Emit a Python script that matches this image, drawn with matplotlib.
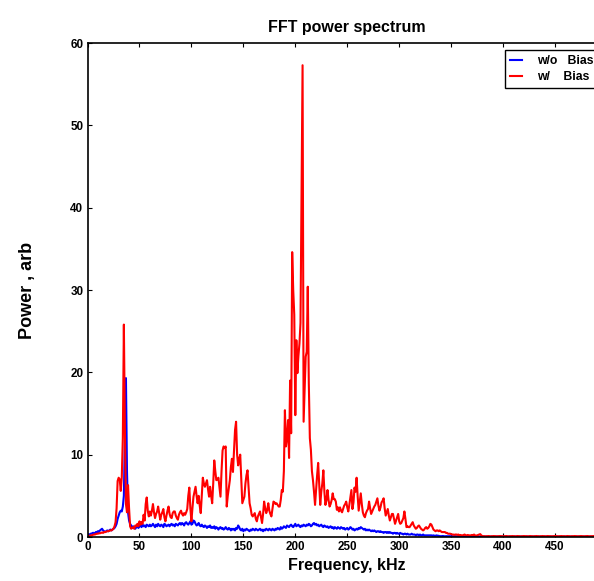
import numpy as np
import matplotlib
matplotlib.use("Agg")
import matplotlib.pyplot as plt

plt.rcParams['font.family'] = ['Liberation Sans', 'DejaVu Sans']
plt.rcParams['font.weight'] = 'bold'

# frequency grid, 1 kHz steps (0 .. 499 kHz)
freq = np.arange(0, 500, 1.0)

# power without bias (blue)
power_no_bias = [
    0.2, 0.3, 0.3, 0.4, 0.4, 0.5, 0.5, 0.4, 0.6, 0.6,
    0.7, 0.6, 0.8, 0.9, 1.0, 0.8, 0.7, 0.6, 0.7, 0.8,
    0.7, 0.8, 0.9, 0.8, 0.9, 1.0, 1.1, 1.3, 1.6, 2.2,
    2.6, 3.0, 3.2, 3.1, 3.7, 5.0, 12.0, 19.3, 8.0, 3.0,
    2.0, 1.6, 1.4, 1.1, 1.3, 1.2, 1.0, 1.2, 1.3, 1.1,
    1.3, 1.4, 1.2, 1.5, 1.3, 1.4, 1.2, 1.5, 1.4, 1.3,
    1.5, 1.3, 1.4, 1.6, 1.4, 1.2, 1.5, 1.3, 1.6, 1.4,
    1.3, 1.5, 1.4, 1.2, 1.6, 1.5, 1.3, 1.4, 1.5, 1.3,
    1.5, 1.6, 1.4, 1.5, 1.3, 1.6, 1.5, 1.4, 1.6, 1.7,
    1.5, 1.7, 1.6, 1.4, 1.7, 1.8, 1.6, 1.5, 1.7, 1.9,
    1.5, 1.6, 2.0, 1.9, 1.6, 1.4, 1.5, 1.7, 1.4, 1.3,
    1.5, 1.3, 1.2, 1.4, 1.3, 1.1, 1.3, 1.2, 1.4, 1.1,
    1.2, 1.1, 1.3, 1.0, 1.2, 1.1, 0.9, 1.1, 1.2, 1.0,
    1.1, 0.9, 1.0, 1.2, 1.0, 0.9, 1.1, 1.0, 0.8, 1.0,
    0.9, 1.0, 0.8, 1.1, 1.0, 1.4, 1.2, 0.9, 0.8, 1.0,
    0.7, 0.9, 0.8, 1.0, 0.9, 0.8, 0.7, 0.9, 0.8, 1.0,
    0.9, 0.8, 1.0, 0.9, 0.8, 0.9, 1.0, 0.8, 0.9, 0.7,
    0.9, 0.8, 1.0, 0.9, 0.8, 1.0, 0.9, 0.8, 1.0, 0.9,
    0.8, 1.0, 0.9, 1.1, 1.0, 0.9, 1.2, 1.0, 1.1, 1.3,
    1.2, 1.1, 1.4, 1.3, 1.2, 1.4, 1.5, 1.3, 1.2, 1.4,
    1.6, 1.3, 1.4, 1.5, 1.3, 1.2, 1.4, 1.3, 1.5, 1.4,
    1.3, 1.5, 1.4, 1.6, 1.5, 1.3, 1.4, 1.6, 1.7, 1.5,
    1.6, 1.4, 1.5, 1.3, 1.4, 1.5, 1.3, 1.2, 1.4, 1.3,
    1.2, 1.3, 1.1, 1.2, 1.3, 1.1, 1.2, 1.0, 1.2, 1.1,
    1.0, 1.2, 1.1, 1.0, 1.2, 1.1, 1.0, 1.1, 0.9, 1.0,
    1.1, 0.9, 1.0, 1.2, 1.1, 0.9, 1.0, 0.8, 0.9, 1.0,
    0.9, 1.1, 1.0, 1.2, 1.1, 1.0, 0.9, 1.0, 0.8, 0.9,
    0.8, 0.9, 0.8, 0.7, 0.8, 0.7, 0.8, 0.7, 0.6, 0.7,
    0.7, 0.6, 0.7, 0.6, 0.6, 0.5, 0.6, 0.6, 0.5, 0.6,
    0.5, 0.6, 0.5, 0.5, 0.4, 0.5, 0.5, 0.4, 0.5, 0.4,
    0.4, 0.5, 0.4, 0.4, 0.3, 0.4, 0.4, 0.3, 0.4, 0.3,
    0.3, 0.3, 0.4, 0.3, 0.3, 0.3, 0.2, 0.3, 0.3, 0.2,
    0.3, 0.2, 0.2, 0.3, 0.2, 0.2, 0.2, 0.2, 0.2, 0.2,
    0.2, 0.2, 0.15, 0.2, 0.15, 0.15, 0.2, 0.15, 0.15, 0.1,
    0.1, 0.1, 0.12, 0.1, 0.08, 0.1, 0.1, 0.08, 0.1, 0.1,
    0.08, 0.1, 0.08, 0.08, 0.1, 0.08, 0.06, 0.08, 0.08, 0.06,
    0.08, 0.06, 0.08, 0.06, 0.06, 0.08, 0.06, 0.06, 0.05, 0.06,
    0.06, 0.05, 0.06, 0.05, 0.06, 0.05, 0.05, 0.06, 0.05, 0.05,
    0.05, 0.06, 0.05, 0.05, 0.04, 0.05, 0.05, 0.04, 0.05, 0.05,
    0.05, 0.04, 0.05, 0.05, 0.04, 0.05, 0.04, 0.05, 0.05, 0.04,
    0.05, 0.04, 0.05, 0.04, 0.05, 0.05, 0.04, 0.05, 0.04, 0.05,
    0.04, 0.05, 0.04, 0.04, 0.05, 0.04, 0.05, 0.04, 0.04, 0.05,
    0.04, 0.04, 0.05, 0.04, 0.04, 0.05, 0.04, 0.04, 0.05, 0.04,
    0.04, 0.05, 0.04, 0.04, 0.04, 0.05, 0.04, 0.04, 0.04, 0.05,
    0.04, 0.04, 0.04, 0.05, 0.04, 0.04, 0.04, 0.04, 0.05, 0.04,
    0.04, 0.04, 0.05, 0.04, 0.04, 0.04, 0.04, 0.05, 0.04, 0.04,
    0.04, 0.04, 0.04, 0.05, 0.04, 0.04, 0.04, 0.04, 0.04, 0.05,
    0.04, 0.04, 0.04, 0.04, 0.05, 0.04, 0.04, 0.04, 0.04, 0.04,
    0.05, 0.04, 0.04, 0.04, 0.04, 0.04, 0.05, 0.04, 0.04, 0.04,
    0.04, 0.04, 0.04, 0.05, 0.04, 0.04, 0.04, 0.04, 0.04, 0.04,
]

# power with bias (red)
power_bias = [
    0.1, 0.1, 0.15, 0.2, 0.2, 0.25, 0.3, 0.3, 0.35, 0.4,
    0.4, 0.45, 0.45, 0.5, 0.55, 0.5, 0.6, 0.6, 0.65, 0.7,
    0.7, 0.75, 0.8, 0.8, 0.9, 1.0, 1.3, 1.8, 3.5, 6.8,
    7.2, 7.0, 5.6, 7.3, 12.0, 25.8, 13.0, 4.0, 3.0, 6.3,
    3.5, 1.3, 1.0, 1.1, 1.2, 1.0, 1.4, 1.3, 1.6, 1.3,
    1.9, 1.5, 1.8, 1.6, 2.7, 2.0, 4.0, 4.8, 3.2, 2.5,
    3.1, 2.6, 3.2, 4.0, 3.0, 2.3, 2.8, 3.1, 3.7, 2.9,
    2.1, 2.7, 3.0, 3.4, 2.4, 1.9, 2.6, 3.2, 3.7, 2.8,
    2.4, 2.3, 2.9, 3.1, 3.1, 2.6, 2.3, 2.1, 2.7, 3.0,
    3.2, 2.8, 2.6, 2.9, 2.7, 3.0, 3.4, 5.0, 6.0, 3.5,
    1.9, 3.5, 4.9, 5.5, 6.1, 5.0, 4.1, 5.0, 3.8, 2.9,
    5.0, 7.2, 6.5, 6.1, 6.5, 6.9, 5.8, 4.9, 6.1, 5.0,
    4.1, 6.5, 9.3, 8.0, 6.9, 7.0, 7.2, 6.0, 4.9, 8.0,
    10.5, 11.0, 10.8, 11.0, 3.7, 5.0, 6.0, 6.9, 8.5, 9.5,
    7.9, 10.5, 13.0, 14.0, 10.0, 8.7, 9.5, 10.0, 7.0, 4.1,
    4.5, 4.9, 6.5, 7.5, 8.1, 6.0, 4.1, 3.5, 2.7, 2.5,
    2.7, 2.9, 2.2, 1.9, 2.5, 2.8, 3.1, 2.4, 1.7, 2.8,
    4.3, 3.5, 2.9, 3.3, 4.1, 3.2, 2.8, 2.5, 3.4, 4.3,
    4.2, 4.0, 4.1, 3.9, 3.7, 3.7, 4.5, 5.7, 5.5, 8.0,
    15.4, 11.0, 12.0, 14.2, 9.6, 19.0, 12.6, 34.6, 30.0, 27.0,
    14.8, 23.9, 19.9, 22.0, 23.5, 26.0, 41.0, 57.3, 14.0, 18.0,
    21.9, 22.5, 30.4, 18.7, 12.0, 10.6, 8.0, 6.9, 5.5, 3.9,
    5.7, 7.5, 9.0, 6.5, 3.9, 5.5, 6.5, 8.1, 5.5, 3.9,
    4.5, 5.7, 4.5, 3.7, 4.0, 4.5, 5.3, 4.6, 4.6, 4.3,
    3.3, 3.6, 3.1, 3.6, 3.2, 3.0, 3.4, 3.8, 4.0, 4.3,
    3.6, 3.1, 3.9, 4.8, 5.7, 3.4, 4.2, 6.0, 5.5, 7.2,
    5.0, 3.2, 4.2, 5.3, 4.0, 3.0, 2.6, 2.4, 2.9, 3.2,
    3.4, 4.3, 3.5, 2.8, 3.1, 3.4, 3.7, 3.9, 4.3, 4.7,
    3.8, 3.2, 3.6, 4.2, 4.4, 4.7, 3.5, 2.6, 3.0, 3.4,
    2.6, 2.0, 2.4, 2.8, 2.8, 2.2, 1.6, 2.0, 2.4, 2.8,
    1.9, 1.6, 1.7, 2.0, 2.3, 3.1, 2.2, 1.2, 1.3, 1.2,
    1.2, 1.4, 1.6, 1.8, 1.4, 1.2, 1.0, 1.1, 1.3, 1.4,
    1.2, 1.0, 0.9, 0.8, 0.9, 1.1, 1.2, 1.0, 1.1, 1.3,
    1.6, 1.5, 1.2, 0.9, 0.8, 0.7, 0.8, 0.8, 0.7, 0.8,
    0.7, 0.6, 0.6, 0.6, 0.6, 0.5, 0.5, 0.4, 0.4, 0.4,
    0.35, 0.3, 0.3, 0.25, 0.3, 0.3, 0.25, 0.3, 0.2, 0.25,
    0.2, 0.2, 0.25, 0.3, 0.2, 0.2, 0.25, 0.2, 0.2, 0.2,
    0.25, 0.2, 0.3, 0.2, 0.15, 0.2, 0.25, 0.3, 0.35, 0.2,
    0.12, 0.1, 0.1, 0.08, 0.1, 0.1, 0.12, 0.1, 0.08, 0.1,
    0.1, 0.12, 0.1, 0.1, 0.08, 0.1, 0.1, 0.12, 0.1, 0.1,
    0.08, 0.1, 0.1, 0.12, 0.1, 0.08, 0.1, 0.1, 0.1, 0.12,
    0.1, 0.1, 0.08, 0.1, 0.12, 0.1, 0.1, 0.08, 0.1, 0.1,
    0.12, 0.1, 0.1, 0.1, 0.08, 0.1, 0.12, 0.1, 0.1, 0.08,
    0.1, 0.1, 0.12, 0.1, 0.1, 0.08, 0.1, 0.1, 0.12, 0.1,
    0.1, 0.08, 0.1, 0.12, 0.1, 0.1, 0.1, 0.08, 0.1, 0.1,
    0.12, 0.1, 0.1, 0.08, 0.1, 0.1, 0.12, 0.1, 0.1, 0.1,
    0.08, 0.1, 0.12, 0.1, 0.1, 0.08, 0.1, 0.1, 0.1, 0.12,
    0.1, 0.1, 0.08, 0.1, 0.1, 0.12, 0.1, 0.1, 0.08, 0.1,
    0.1, 0.12, 0.1, 0.08, 0.1, 0.1, 0.1, 0.12, 0.1, 0.08,
    0.1, 0.1, 0.12, 0.1, 0.08, 0.1, 0.1, 0.1, 0.12, 0.1,
]

legend_labels = ["w/o   Bias", "w/    Bias"]
x_ticks = [0, 50, 100, 150, 200, 250, 300, 350, 400, 450]
y_ticks = [0, 10, 20, 30, 40, 50, 60]

fig = plt.figure(figsize=(5.94, 5.81), dpi=100)
# axes run past the right edge of the picture, as in the original
ax = fig.add_axes([87.5 / 594, 1 - 537 / 581, 519.5 / 594, 494 / 581])

ax.plot(freq, power_no_bias, color='#0000ff', linewidth=1.5, label=legend_labels[0])
ax.plot(freq, power_bias, color='#ff0000', linewidth=1.5, label=legend_labels[1])

ax.set_xlim(0, 500)
ax.set_ylim(0, 60)
ax.set_xticks(x_ticks)
ax.set_yticks(y_ticks)
ax.tick_params(direction='in', length=3, width=0.8, labelsize=8.4, pad=3,
               top=True, right=True)
for lab in ax.get_xticklabels() + ax.get_yticklabels():
    lab.set_fontweight('bold')
for s in ax.spines.values():
    s.set_linewidth(1.2)

ax.set_title("FFT power spectrum", fontsize=11.5, fontweight='bold', pad=8)
ax.set_xlabel("Frequency, kHz", fontsize=11.5, fontweight='bold')
ax.xaxis.set_label_coords(0.5, -0.042)
ax.set_ylabel("Power , arb", fontsize=13, fontweight='bold')
ax.yaxis.set_label_coords(-0.1, 0.5)

# legend sticks out past the cropped right edge, like the original
leg = ax.legend(loc='upper left', bbox_to_anchor=((505 - 87.5) / 519.5, (537 - 50) / 494),
                borderaxespad=0, fontsize=8.8, handlelength=1.0, handletextpad=1.2,
                fancybox=False, framealpha=1, edgecolor='black', borderpad=0.4,
                labelspacing=0.35)
leg.get_frame().set_linewidth(1.0)
for t in leg.get_texts():
    t.set_fontweight('bold')

fig.savefig("out.png", dpi=100)
